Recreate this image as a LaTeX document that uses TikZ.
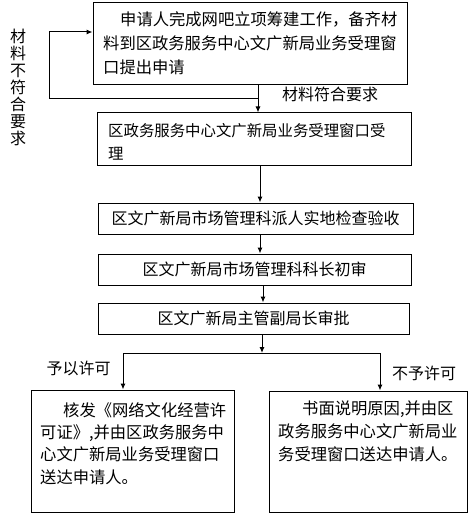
\documentclass[tikz,border=0pt]{standalone}
\usepackage{fontspec}
\newfontfamily\cjk{Noto Sans CJK SC}
\usetikzlibrary{arrows.meta,calc}
\begin{document}
\begin{tikzpicture}[x=1pt,y=-1pt,
  box/.style={draw, line width=1pt, inner sep=0pt},
  txt/.style={inner sep=0pt, align=left},
  lbl/.style={inner sep=0pt, font=\cjk\fontsize{16}{20}\selectfont},
  arr/.style={line width=1pt, -{Latex[length=6pt,width=5pt]}},
  ln/.style={line width=1pt}]
\useasboundingbox (0,0) rectangle (471,516);
% boxes
\node[box, minimum width=314pt, minimum height=82pt] (b1) at (250,44) {};
\node[box, minimum width=314pt, minimum height=52pt] (b2) at (254,139) {};
\node[box, minimum width=315pt, minimum height=31pt, font=\cjk\fontsize{16}{20}\selectfont] (b3) at (255.5,218.5) {区文广新局市场管理科派人实地检查验收};
\node[box, minimum width=313pt, minimum height=31pt, font=\cjk\fontsize{16}{20}\selectfont] (b4) at (254.5,269.5) {区文广新局市场管理科科长初审};
\node[box, minimum width=311pt, minimum height=31pt, font=\cjk\fontsize{16}{20}\selectfont] (b5) at (253.5,318.5) {区文广新局主管副局长审批};
\node[box, minimum width=203pt, minimum height=122pt] (b6) at (132.5,451) {};
\node[box, minimum width=198pt, minimum height=121pt] (b7) at (368,451.5) {};
% texts
\node[txt, anchor=west, font=\cjk\fontsize{16.3}{24}\selectfont] (t1) at (103,43)
  {\hspace*{17pt}申请人完成网吧立项筹建工作，备齐材\\料到区政务服务中心文广新局业务受理窗\\口提出申请};
\node[txt, anchor=west, font=\cjk\fontsize{15.4}{23}\selectfont] (t2) at (108,141.5)
  {区政务服务中心文广新局业务受理窗口受\\理};
\node[txt, anchor=west, font=\cjk\fontsize{16.3}{22.3}\selectfont] (t6) at (40,443.5)
  {\hspace*{23pt}核发《网络文化经营许\\可证》,并由区政务服务中\\心文广新局业务受理窗口\\送达申请人。};
\node[txt, anchor=west, font=\cjk\fontsize{16.3}{23}\selectfont] (t7) at (278,431)
  {\hspace*{24pt}书面说明原因,并由区\\政务服务中心文广新局业\\务受理窗口送达申请人。};
% labels
\node[inner sep=0pt, align=center, font=\cjk\fontsize{16}{17}\selectfont] (bad) at (18,87.5)
  {材\\料\\不\\符\\合\\要\\求};
\node[lbl, anchor=west] (good) at (282,94) {材料符合要求};
\node[lbl] (yes) at (78.5,368) {予以许可};
\node[lbl] (no) at (424,373) {不予许可};
% connectors
\coordinate (j1) at (258,99);
\coordinate (c1) at (49,99);
\coordinate (c2) at (49,32);
\draw[arr] (b1.south -| j1) -- (b2.north -| j1);
\draw[arr] (j1) -- (c1) -- (c2) -- (b1.west |- c2);
\coordinate (x2) at (260,0);
\draw[arr] (b2.south -| x2) -- (b3.north -| x2);
\draw[arr] (b3.south -| x2) -- (b4.north -| x2);
\coordinate (x4) at (263,0);
\draw[arr] (b4.south -| x4) -- (b5.north -| x4);
\coordinate (j2) at (262,353);
\coordinate (jl) at (123,353);
\coordinate (jr) at (380,353);
\draw[arr] (b5.south -| j2) -- (j2);
\draw[ln] (jl) -- (jr);
\draw[arr] (jl) -- (b6.north -| jl);
\draw[arr] (jr) -- (b7.north -| jr);
\end{tikzpicture}
\end{document}
